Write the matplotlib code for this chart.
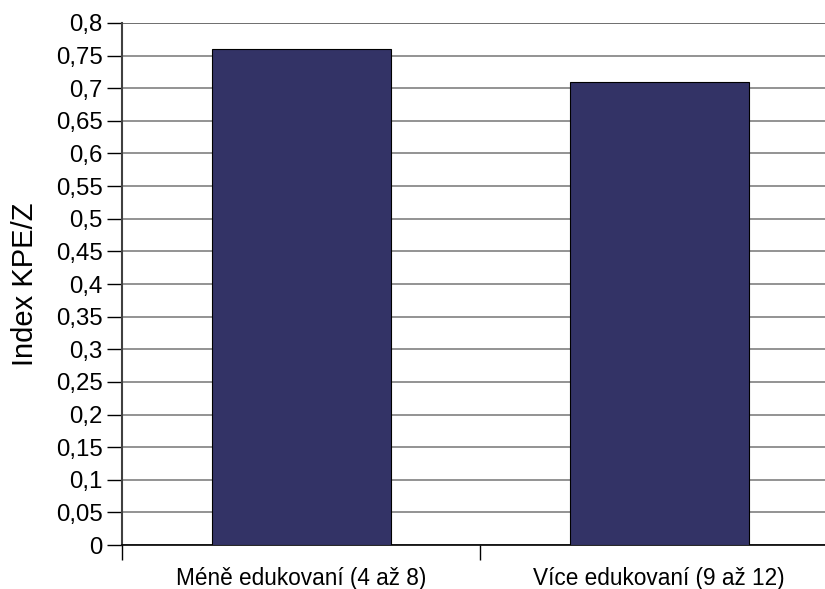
import matplotlib.pyplot as plt
import numpy as np

# KPE/Z index by education group
skupiny = ['Méně edukovaní (4 až 8)', 'Více edukovaní (9 až 12)']
index_kpe = [0.76, 0.71]
y_ticks = np.arange(0, 0.801, 0.05)

plt.rcParams['font.family'] = ['Liberation Sans', 'DejaVu Sans']

fig = plt.figure(figsize=(8.25, 5.89), dpi=100)
ax = fig.add_axes([122/825, 44/589, 716/825, 522/589])

x = np.arange(len(skupiny))
ax.bar(x, index_kpe, width=0.5, color='#333366', edgecolor='black',
       linewidth=0.8, zorder=3)

ax.set_xlim(-0.5, 1.5)
ax.set_ylim(0, 0.8)

# horizontal gridlines
ax.set_yticks(y_ticks)
ax.set_yticklabels([('%g' % v).replace('.', ',') for v in y_ticks], fontsize=17.3)
ax.yaxis.grid(True, color='#808080', linewidth=1.2, zorder=0)
ax.axhline(0.8, color='black', linewidth=1.2, zorder=1)

ax.set_xticks(x)
ax.set_xticklabels(skupiny, fontsize=16.3)
ax.set_xticks([-0.5, 0.5, 1.5], minor=True)
ax.tick_params(axis='x', which='major', length=0, pad=16)
ax.tick_params(axis='x', which='minor', length=11, width=1, color='black')
ax.tick_params(axis='y', length=11, width=1, color='black', pad=3)

for s in ['top', 'right']:
    ax.spines[s].set_visible(False)
ax.spines['left'].set_color('#404040')
ax.spines['left'].set_linewidth(1.5)
ax.spines['bottom'].set_color('black')
ax.spines['bottom'].set_linewidth(1.2)

ax.set_ylabel('Index KPE/Z', fontsize=21, labelpad=12)

fig.savefig('out.png', dpi=100)
